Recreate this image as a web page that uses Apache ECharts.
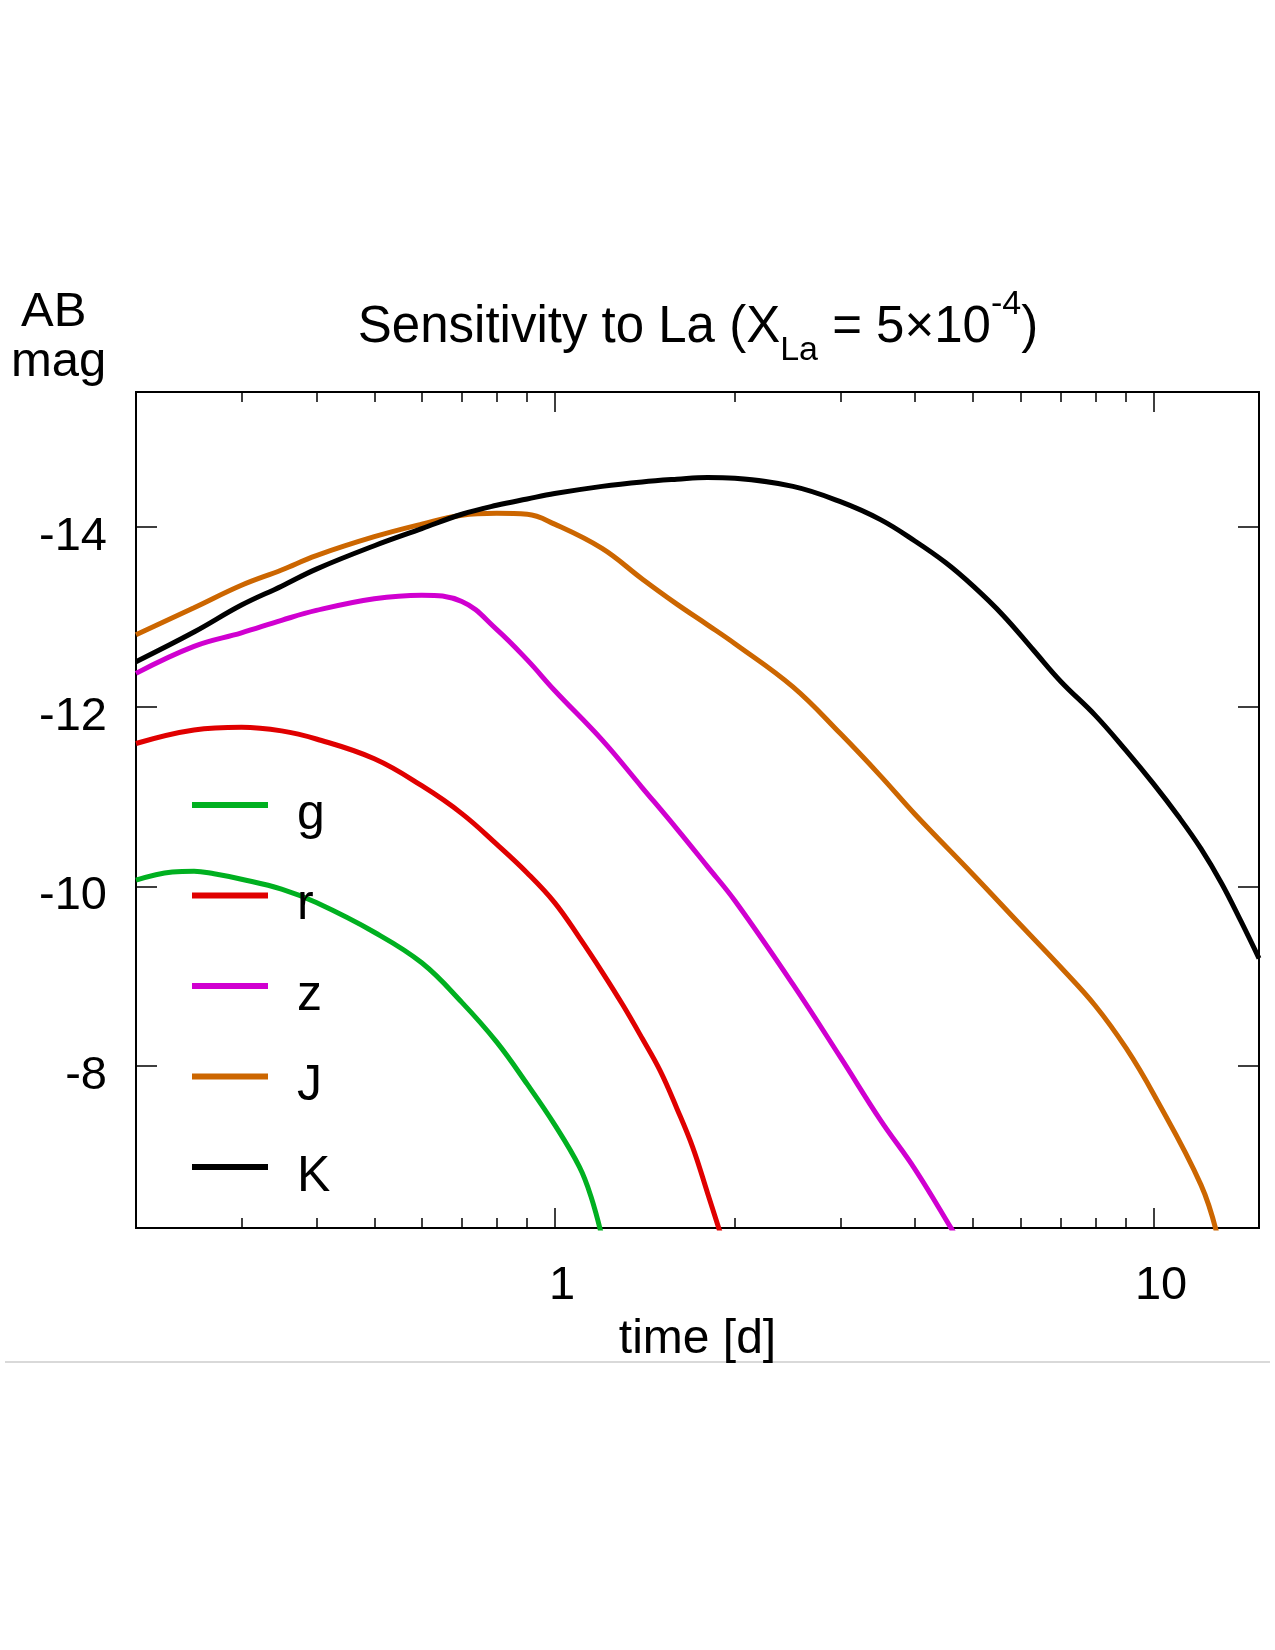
<!DOCTYPE html>
<html>
<head>
<meta charset="utf-8">
<title>Sensitivity to La</title>
<script src="https://cdn.jsdelivr.net/npm/echarts@6/dist/echarts.min.js"></script>
<style>
  html, body { margin: 0; padding: 0; background: #fff; }
  #chart { width: 1275px; height: 1650px; }
</style>
</head>
<body>
<div id="chart"></div>
<script>
// bands, in legend order
const bandNames = ['g', 'r', 'z', 'J', 'K'];
const bandColors = ['#00b020', '#e00000', '#d000d0', '#cc6600', '#000000'];

// light curves: time [d] and AB magnitude
const gTime = [0.2, 0.23, 0.25, 0.27, 0.3, 0.35, 0.4, 0.5, 0.6, 0.7, 0.8, 0.9, 1.0, 1.1, 1.15, 1.2];
const gMag = [-10.07, -10.16, -10.17, -10.14, -10.08, -9.97, -9.82, -9.49, -9.15, -8.71, -8.27, -7.80, -7.35, -6.88, -6.55, -6.1];

const rTime = [0.2, 0.25, 0.3, 0.35, 0.4, 0.5, 0.6, 0.7, 0.8, 0.9, 1.0, 1.1, 1.2, 1.3, 1.4, 1.5, 1.6, 1.7, 1.8, 1.9];
const rMag = [-11.59, -11.74, -11.77, -11.73, -11.64, -11.42, -11.12, -10.81, -10.47, -10.15, -9.82, -9.43, -9.05, -8.68, -8.31, -7.95, -7.53, -7.10, -6.59, -6.1];

const zTime = [0.2, 0.25, 0.3, 0.35, 0.4, 0.5, 0.6, 0.7, 0.8, 0.9, 1.0, 1.2, 1.4, 1.6, 1.8, 2, 2.5, 3, 3.5, 4, 4.6, 4.7];
const zMag = [-12.37, -12.67, -12.82, -12.96, -13.07, -13.20, -13.24, -13.17, -12.86, -12.52, -12.18, -11.63, -11.10, -10.64, -10.22, -9.84, -8.91, -8.10, -7.40, -6.85, -6.19, -6.08];

const jTime = [0.2, 0.25, 0.3, 0.35, 0.4, 0.5, 0.6, 0.7, 0.8, 0.9, 1.0, 1.2, 1.4, 1.6, 1.8, 2, 2.5, 3, 3.5, 4, 5, 6, 7, 8, 9, 10, 12, 12.8];
const jMag = [-12.80, -13.10, -13.35, -13.52, -13.68, -13.89, -14.03, -14.13, -14.15, -14.14, -14.03, -13.76, -13.42, -13.14, -12.91, -12.70, -12.22, -11.70, -11.23, -10.80, -10.13, -9.57, -9.10, -8.67, -8.20, -7.69, -6.68, -6.1];

const kTime = [0.2, 0.25, 0.3, 0.35, 0.4, 0.5, 0.6, 0.7, 0.8, 0.9, 1.0, 1.2, 1.4, 1.6, 1.8, 2, 2.5, 3, 3.5, 4, 4.5, 5, 5.6, 6.3, 7, 8, 9, 10, 11, 12, 13, 14, 15];
const kMag = [-12.50, -12.83, -13.13, -13.34, -13.53, -13.79, -13.98, -14.14, -14.24, -14.31, -14.37, -14.45, -14.50, -14.53, -14.55, -14.54, -14.45, -14.28, -14.08, -13.84, -13.60, -13.34, -13.02, -12.63, -12.28, -11.90, -11.51, -11.14, -10.78, -10.42, -10.03, -9.61, -9.20];

const bandTimes = [gTime, rTime, zTime, jTime, kTime];
const bandMags = [gMag, rMag, zMag, jMag, kMag];

// axis ticks
const xMajorTicks = [1, 10];
const xMinorTicks = [0.3, 0.4, 0.5, 0.6, 0.7, 0.8, 0.9, 2, 3, 4, 5, 6, 7, 8, 9];
const yTicks = [-14, -12, -10, -8];

const FONT = '"Liberation Sans", Arial, Helvetica, sans-serif';

const chart = echarts.init(document.getElementById('chart'));

function xAxisFor(position, ticks, tickLen, withLabels) {
  return {
    type: 'log',
    logBase: 10,
    gridIndex: 0,
    position: position,
    min: 0.2,
    max: 15,
    axisLine: { show: true, lineStyle: { color: '#000', width: 2 } },
    axisTick: { show: true, inside: true, length: tickLen, customValues: ticks, lineStyle: { color: '#000', width: 1.5 } },
    axisLabel: withLabels
      ? {
          show: true, customValues: ticks, margin: 35,
          formatter: v => '{t|' + v + '}',
          rich: { t: { color: '#000', fontSize: 47, fontFamily: FONT, padding: [0, 0, 0, 15] } }
        }
      : { show: false },
    splitLine: { show: false },
    minorTick: { show: false },
    minorSplitLine: { show: false }
  };
}

function yAxisFor(position, withLabels) {
  return {
    type: 'value',
    gridIndex: 0,
    position: position,
    min: -15.5,
    max: -6.2,
    inverse: true,
    axisLine: { show: true, onZero: false, lineStyle: { color: '#000', width: 2 } },
    axisTick: { show: true, inside: true, length: 21, customValues: yTicks, lineStyle: { color: '#000', width: 1.5 } },
    axisLabel: withLabels
      ? {
          show: true, customValues: yTicks, margin: 29,
          formatter: v => '{t|' + v + '}',
          rich: { t: { color: '#000', fontSize: 47, fontFamily: FONT, lineHeight: 47, padding: [20, 0, 0, 0] } }
        }
      : { show: false },
    splitLine: { show: false }
  };
}

const xBottom = xAxisFor('bottom', xMajorTicks, 20, true);
xBottom.name = 'time [d]';
xBottom.nameLocation = 'middle';
xBottom.nameGap = 88;
xBottom.nameTextStyle = { color: '#000', fontSize: 48, fontFamily: FONT };

const option = {
  animation: false,
  backgroundColor: '#fff',
  grid: { left: 136, top: 392, width: 1123, height: 836, containLabel: false },
  xAxis: [
    xBottom,
    xAxisFor('bottom', xMinorTicks, 10, false),
    xAxisFor('top', xMajorTicks, 20, false),
    xAxisFor('top', xMinorTicks, 10, false)
  ],
  yAxis: [
    yAxisFor('left', true),
    yAxisFor('right', false)
  ],
  legend: {
    orient: 'vertical',
    left: 187,
    top: 765,
    icon: 'rect',
    itemWidth: 76,
    itemHeight: 6,
    itemGap: 20.5,
    selectedMode: false,
    data: bandNames,
    formatter: name => '{n|' + name + '}',
    textStyle: {
      rich: { n: { color: '#000', fontSize: 50, fontFamily: FONT, lineHeight: 50, padding: [20, 0, 0, 24] } }
    }
  },
  graphic: [
    {
      type: 'text',
      x: 698,
      y: 288,
      style: {
        text: '{m|Sensitivity to La (X}{sub|La}{m| = 5×10}{sup|-4}{m|)}',
        align: 'center',
        verticalAlign: 'top',
        fill: '#000',
        rich: {
          m: { fontSize: 51, lineHeight: 80, fontFamily: FONT, fill: '#000' },
          sub: { fontSize: 34, lineHeight: 38, verticalAlign: 'bottom', fontFamily: FONT, fill: '#000' },
          sup: { fontSize: 34, lineHeight: 43, verticalAlign: 'top', fontFamily: FONT, fill: '#000' }
        }
      }
    },
    {
      type: 'text', x: 21, y: 312,
      style: { text: 'AB', fontSize: 49, fontFamily: FONT, fill: '#000', align: 'left', verticalAlign: 'middle' }
    },
    {
      type: 'text', x: 11, y: 362,
      style: { text: 'mag', fontSize: 49, fontFamily: FONT, fill: '#000', align: 'left', verticalAlign: 'middle' }
    },
    {
      type: 'line',
      shape: { x1: 5, y1: 1362, x2: 1270, y2: 1362 },
      style: { stroke: '#cccccc', lineWidth: 1.5 }
    }
  ],
  series: bandNames.map((name, i) => ({
    name: name,
    type: 'line',
    xAxisIndex: 0,
    yAxisIndex: 0,
    data: bandTimes[i].map((t, j) => [t, bandMags[i][j]]),
    showSymbol: false,
    symbol: 'none',
    smooth: 0.4,
    clip: true,
    itemStyle: { color: bandColors[i] },
    lineStyle: { color: bandColors[i], width: 5 }
  }))
};

chart.setOption(option);
</script>
</body>
</html>
